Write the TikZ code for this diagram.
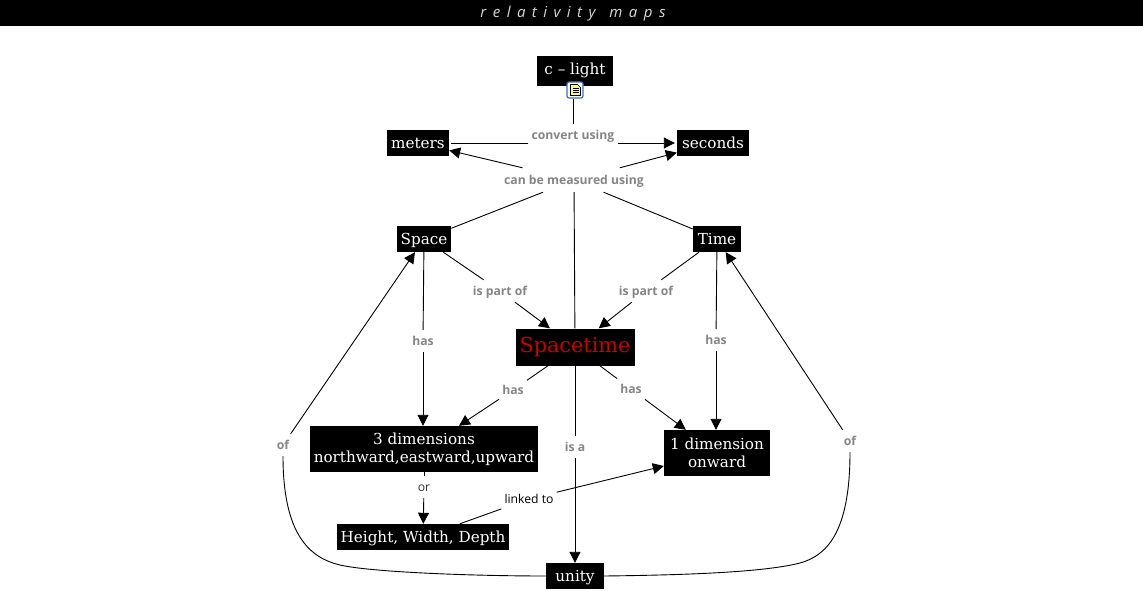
\documentclass[tikz,border=0pt]{standalone}
\usepackage{fontspec}
\usetikzlibrary{arrows.meta}
\setmainfont{DejaVu Serif}
\newfontfamily\linkfont{Open Sans}
\newfontfamily\titlefont[LetterSpace=43]{Open Sans}
\definecolor{noteblue}{RGB}{60,110,200}
\tikzset{
  concept/.style={fill=black, text=white, inner sep=0pt, align=center, font=\fontsize{15.2}{18}\selectfont},
  single/.style={concept, text height=13pt, text depth=2pt},
  link/.style={text=black!48, inner xsep=3pt, inner ysep=0pt, minimum height=22pt, text height=11pt, text depth=2.4pt, font=\linkfont\bfseries\fontsize{12.2}{14}\selectfont},
  conn/.style={line width=0.9pt},
  arr/.style={conn, -{Triangle[length=11pt,width=11pt]}}
}
\begin{document}
\begin{tikzpicture}[x=1pt, y=-1pt]
  \useasboundingbox (0,0) rectangle (1143,591);

  % title bar
  \fill[black] (0,0) rectangle (1143,26);
  \node[text=black!15, font=\titlefont\itshape\fontsize{15}{17}\selectfont] (title) at (573,14) {relativity\hspace{14pt}maps};

  % concepts
  \node[concept, minimum width=76pt, minimum height=30pt, text height=9pt, text depth=2pt] (light) at (575,71) {c -- light};
  \node[single, minimum width=62pt, minimum height=26pt] (meters) at (418,143) {meters};
  \node[single, minimum width=72pt, minimum height=26pt] (seconds) at (713,143) {seconds};
  \node[single, minimum width=54pt, minimum height=26pt] (space) at (424,239) {Space};
  \node[single, minimum width=48pt, minimum height=26pt] (time) at (717,239) {Time};
  \node[concept, minimum width=119pt, minimum height=37pt, text=red!80!black, font=\fontsize{20.8}{24}\selectfont] (spacetime) at (575,347) {Spacetime};
  \node[concept, minimum width=228pt, minimum height=46pt] (threedim) at (424,449) {3 dimensions\\northward,eastward,upward};
  \node[concept, minimum width=106pt, minimum height=46pt] (onedim) at (717,453) {1 dimension\\onward};
  \node[single, minimum width=172pt, minimum height=26pt] (hwd) at (423,537) {Height, Width, Depth};
  \node[single, minimum width=58pt, minimum height=26pt] (unity) at (575,576) {unity};

  % note icon on c - light
  \node[draw=noteblue, fill=white, line width=1.2pt, rounded corners=2pt, minimum size=16pt, inner sep=0pt] (icon) at (575,90) {};
  \fill[yellow!50, draw=black, line width=0.6pt] (570.5,84.5) -- (577.5,84.5) -- (580.5,87.5) -- (580.5,95.5) -- (570.5,95.5) -- cycle;
  \foreach \y in {88,90,92.5} \draw[line width=0.6pt] (572.5,\y) -- (578.5,\y);

  % link phrases
  \node[link] (convert) at (573,135) {convert using};
  \node[link, minimum height=24pt] (measured) at (574,180) {can be measured using};
  \node[link] (partleft) at (500,291) {is part of};
  \node[link] (partright) at (646,291) {is part of};
  \node[link] (hasspace) at (423,341) {has};
  \node[link] (hastime) at (716,340) {has};
  \node[link] (hasleft) at (513,390) {has};
  \node[link] (hasright) at (631,389) {has};
  \node[link] (isa) at (575,447) {is a};
  \node[link] (ofleft) at (283,445) {of};
  \node[link] (ofright) at (850,441) {of};
  \node[link, text=black!80, font=\linkfont\fontsize{12.2}{14}\selectfont] (or) at (424,487) {or};
  \node[link, text=black, font=\linkfont\fontsize{12.2}{14}\selectfont] (linked) at (529,499) {linked to};

  % curve points
  \coordinate (cl) at (340,565);
  \coordinate (cr) at (800,563);

  % top part
  \draw[conn] (icon.south -| convert) -- (convert);
  \draw[conn] (convert.west |- meters) -- ([xshift=2pt]meters.east);
  \draw[arr] (convert.east |- seconds) -- ([xshift=-2pt]seconds.west);
  \draw[arr] (measured) -- (meters);
  \draw[arr] (measured) -- (seconds);
  \draw[conn] (space) -- (measured);
  \draw[conn] (time) -- (measured);
  \draw[conn] (spacetime) -- (measured);

  % middle part
  \draw[conn] (space) -- (partleft);
  \draw[arr] (partleft) -- (spacetime);
  \draw[conn] (time) -- (partright);
  \draw[arr] (partright) -- (spacetime);
  \draw[conn] (space) -- (hasspace);
  \draw[arr] (hasspace) -- (threedim.north -| hasspace);
  \draw[conn] (time) -- (hastime);
  \draw[arr] (hastime) -- (onedim.north -| hastime);
  \draw[conn] (spacetime) -- (hasleft);
  \draw[arr] (hasleft) -- (threedim);
  \draw[conn] (spacetime) -- (hasright);
  \draw[arr] (hasright) -- (onedim);
  \draw[conn] (spacetime) -- (isa);
  \draw[arr] (isa) -- (unity);

  % lower part
  \draw[conn] (threedim) -- (or);
  \draw[arr] (or) -- (hwd);
  \draw[conn] (hwd) -- (linked);
  \draw[arr] (linked) -- (onedim);

  % unity back to space and time
  \draw[conn] (unity.west) .. controls (470,576) and (370,572) .. (cl)
    .. controls (310,558) and (283,535) .. (ofleft.south);
  \draw[conn] (unity.east) .. controls (690,575) and (765,572) .. (cr)
    .. controls (825,556) and (850,535) .. (ofright.south);
  \draw[arr] (ofleft) -- (space);
  \draw[arr] (ofright) -- (time);
\end{tikzpicture}
\end{document}
